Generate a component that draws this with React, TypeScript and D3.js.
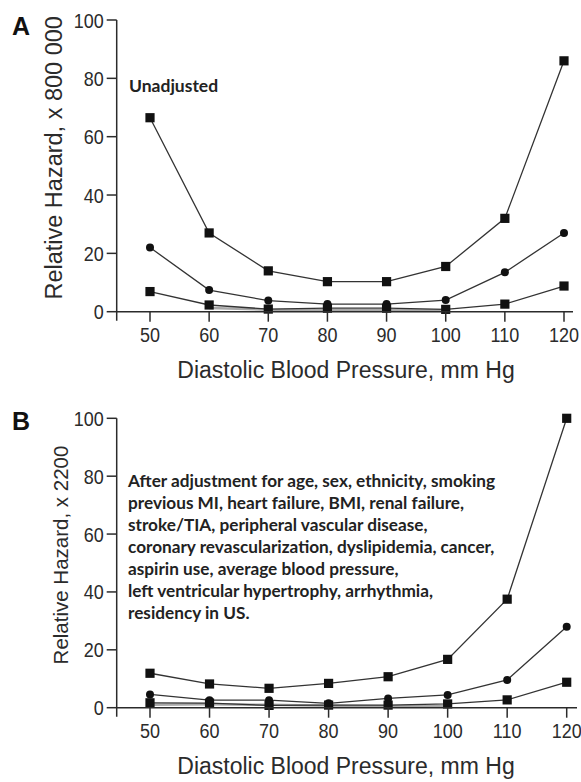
import React from "react";
import * as d3 from "d3";

// Diastolic blood pressure categories (mm Hg)
const bp = [50, 60, 70, 80, 90, 100, 110, 120];
const yTicks = [0, 20, 40, 60, 80, 100];

// Panel A – unadjusted relative hazard (x 800 000)
const unadjHigh = [66.5, 27, 14, 10.3, 10.3, 15.5, 32, 86];
const unadjMid = [22, 7.4, 3.8, 2.6, 2.6, 4, 13.5, 27];
const unadjLow = [6.9, 2.3, 0.9, 1.2, 1.2, 0.8, 2.6, 8.8];
const unadjRef = [null, 1.3, 0.7, 0.6, 0.5, 0.5, null, null];

// Panel B – adjusted relative hazard (x 2200)
const adjHigh = [11.9, 8.2, 6.7, 8.4, 10.7, 16.7, 37.5, 100];
const adjMid = [4.6, 2.6, 2.6, 1.5, 3.2, 4.4, 9.6, 28];
const adjLow = [1.7, 1.6, 0.8, 0.9, 0.9, 1.3, 2.7, 8.8];
const adjRef = [1.0, 1.2, 1.0, 0.7, 0.5, 0.5, null, null];

const adjustmentNote = [
  "After adjustment for age, sex, ethnicity, smoking",
  "previous MI, heart failure, BMI, renal failure,",
  "stroke/TIA, peripheral vascular disease,",
  "coronary revascularization, dyslipidemia, cancer,",
  "aspirin use, average blood pressure,",
  "left ventricular hypertrophy, arrhythmia,",
  "residency in US.",
];

const SANS = "'Liberation Sans', Arial, Helvetica, sans-serif";
const NOTE = "Lato, 'Open Sans', sans-serif";
const INK = "#2b2b2b";

type Series = { values: (number | null)[]; marker: "square" | "circle" | "none"; color?: string; width?: number };

type PanelProps = {
  letter: string;
  letterY: number;
  top: number; // pixel of y = 100
  zero: number; // pixel of y = 0
  x0: number; // pixel of first category
  x1: number; // pixel of last category
  axisRight: number;
  yTitle: string;
  yTitleSize: number;
  yTitleX: number;
  series: Series[];
};

const AXIS_X = 116.7;
const TICK_FONT = 18;
const TICK_STRETCH = 1.15;

function Panel({
  letter,
  letterY,
  top,
  zero,
  x0,
  x1,
  axisRight,
  yTitle,
  yTitleSize,
  yTitleX,
  series,
  children,
}: PanelProps & { children?: React.ReactNode }) {
  const x = d3.scaleLinear().domain([50, 120]).range([x0, x1]);
  const y = d3.scaleLinear().domain([0, 100]).range([zero, top]);

  return (
    <g>
      <text x={12} y={letterY} fontFamily={SANS} fontWeight="bold" fontSize={25} fill="#111">
        {letter}
      </text>

      {/* connecting lines (gray reference bands drawn first) */}
      {series.map((s, i) => {
        const pts = bp.map((b, k) => [b, s.values[k]] as [number, number | null]);
        const line = d3
          .line<[number, number | null]>()
          .defined((d) => d[1] !== null)
          .x((d) => x(d[0]))
          .y((d) => y(d[1] as number));
        return (
          <path key={"l" + i} d={line(pts) || ""} fill="none" stroke={s.color || "#333"} strokeWidth={s.width || 1.3} />
        );
      })}
      {/* markers */}
      {series.map((s, i) =>
        s.values.map((v, k) => {
          if (v === null || s.marker === "none") return null;
          const cx = x(bp[k]);
          const cy = y(v);
          return s.marker === "square" ? (
            <rect key={`m${i}-${k}`} x={cx - 4.6} y={cy - 4.6} width={9.2} height={9.2} fill="#111" />
          ) : (
            <circle key={`m${i}-${k}`} cx={cx} cy={cy} r={4} fill="#111" />
          );
        })
      )}

      {/* axes */}
      <line x1={AXIS_X} x2={AXIS_X} y1={top} y2={zero + 9} stroke={INK} strokeWidth={1.5} />
      <line x1={AXIS_X} x2={axisRight} y1={zero} y2={zero} stroke={INK} strokeWidth={1.5} />
      {yTicks.map((t) => (
        <g key={"yt" + t}>
          <line x1={AXIS_X - 10} x2={AXIS_X} y1={y(t)} y2={y(t)} stroke={INK} strokeWidth={1.5} />
          <text
            transform={`translate(${AXIS_X - 13},${y(t) + 7.5}) scale(1,${TICK_STRETCH})`}
            textAnchor="end"
            fontFamily={SANS}
            fontSize={TICK_FONT}
            fill={INK}
          >
            {t}
          </text>
        </g>
      ))}
      {bp.map((b) => (
        <g key={"xt" + b}>
          <line x1={x(b)} x2={x(b)} y1={zero} y2={zero + 10} stroke={INK} strokeWidth={1.5} />
          <text
            transform={`translate(${x(b)},${zero + 30.5}) scale(1,${TICK_STRETCH})`}
            textAnchor="middle"
            fontFamily={SANS}
            fontSize={TICK_FONT}
            fill={INK}
          >
            {b}
          </text>
        </g>
      ))}

      <text
        transform={`translate(${yTitleX},${(top + zero) / 2 - 8}) rotate(-90)`}
        textAnchor="middle"
        fontFamily={SANS}
        fontSize={yTitleSize}
        fill={INK}
      >
        {yTitle}
      </text>
      <text x={346} y={zero + 66.5} textAnchor="middle" fontFamily={SANS} fontSize={23} fill={INK}>
        Diastolic Blood Pressure, mm Hg
      </text>
      {children}
    </g>
  );
}

export default function App() {
  const refColor = "#a8a8a8";
  return (
    <svg width={581} height={782} style={{ position: "absolute", left: 0, top: 0, background: "#fff" }}>
      <Panel
        letter="A"
        letterY={35}
        top={20}
        zero={311.7}
        x0={150}
        x1={564}
        axisRight={573}
        yTitle="Relative Hazard, x 800 000"
        yTitleSize={23.5}
        yTitleX={62}
        series={[
          { values: unadjRef, marker: "none", color: refColor, width: 2.5 },
          { values: unadjHigh, marker: "square" },
          { values: unadjMid, marker: "circle" },
          { values: unadjLow, marker: "square" },
        ]}
      >
        <text x={129} y={91.7} fontFamily={NOTE} fontWeight="bold" fontSize={17.5} fill="#222">
          Unadjusted
        </text>
      </Panel>
      <Panel
        letter="B"
        letterY={430}
        top={418.3}
        zero={707.7}
        x0={150}
        x1={566.7}
        axisRight={577}
        yTitle="Relative Hazard, x 2200"
        yTitleSize={20.5}
        yTitleX={68}
        series={[
          { values: adjRef, marker: "none", color: refColor, width: 2.5 },
          { values: adjHigh, marker: "square" },
          { values: adjMid, marker: "circle" },
          { values: adjLow, marker: "square" },
        ]}
      >
        {adjustmentNote.map((line, i) => (
          <text key={i} x={128} y={486.7 + i * 22.1} fontFamily={NOTE} fontWeight="bold" fontSize={17.2} fill="#222">
            {line}
          </text>
        ))}
      </Panel>
    </svg>
  );
}
